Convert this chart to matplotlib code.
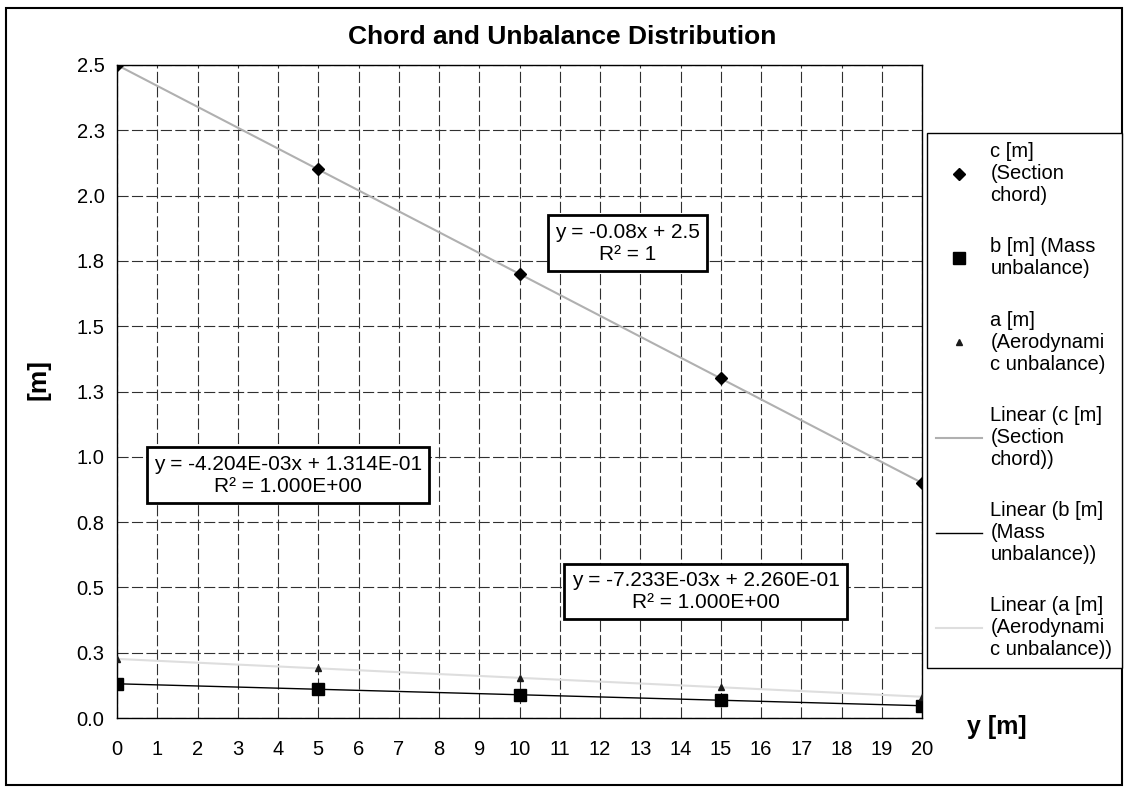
import numpy as np
import matplotlib
matplotlib.use("Agg")
import matplotlib.pyplot as plt
from matplotlib.patches import Rectangle

plt.rcParams['font.family'] = ['Liberation Sans', 'DejaVu Sans']

# data
span = [0, 5, 10, 15, 20]
chord = [2.5, 2.1, 1.7, 1.3, 0.9]
mass_unb = [0.131, 0.110, 0.089, 0.068, 0.047]
aero_unb = [0.226, 0.190, 0.154, 0.118, 0.081]

y_ticks = [0.0, 0.25, 0.5, 0.75, 1.0, 1.25, 1.5, 1.75, 2.0, 2.25, 2.5]
y_ticklabels = ['0.0', '0.3', '0.5', '0.8', '1.0', '1.3', '1.5', '1.8', '2.0', '2.3', '2.5']

eq_c = "y = -0.08x + 2.5\nR² = 1"
eq_b = "y = -4.204E-03x + 1.314E-01\nR² = 1.000E+00"
eq_a = "y = -7.233E-03x + 2.260E-01\nR² = 1.000E+00"

fs = 14.5

fig = plt.figure(figsize=(11.25, 7.91), dpi=100)
ax = fig.add_axes([117 / 1125, 1 - 718 / 791, 805 / 1125, 653 / 791])

# trendlines (linear fits)
xx = np.array([0, 20])
fit_c = np.polyfit(span, chord, 1)
fit_b = np.polyfit(span, mass_unb, 1)
fit_a = np.polyfit(span, aero_unb, 1)

sc_c, = ax.plot(span, chord, linestyle='none', marker='D', ms=6, color='black', zorder=5)
sc_b, = ax.plot(span, mass_unb, linestyle='none', marker='s', ms=8, color='black', zorder=5)
sc_a, = ax.plot(span, aero_unb, linestyle='none', marker='^', ms=5, color='#1a1a1a', zorder=5)
ln_c, = ax.plot(xx, np.polyval(fit_c, xx), color='#b0b0b0', lw=1.5, zorder=3)
ln_b, = ax.plot(xx, np.polyval(fit_b, xx), color='black', lw=1.0, zorder=3)
ln_a, = ax.plot(xx, np.polyval(fit_a, xx), color='#dedede', lw=1.5, zorder=3)

ax.set_xlim(0, 20)
ax.set_ylim(0, 2.5)
ax.set_xticks(range(0, 21))
ax.set_yticks(y_ticks)
ax.set_yticklabels(y_ticklabels)
ax.tick_params(length=0, labelsize=fs)
ax.tick_params(axis='x', pad=16)
ax.tick_params(axis='y', pad=9)
ax.grid(True, color='#303030', lw=0.8, linestyle=(0, (10, 3)))
for s in ax.spines.values():
    s.set_color('black')
    s.set_linewidth(1.0)

# equation labels
box = dict(boxstyle='square,pad=0.35', facecolor='white', edgecolor='black', lw=2)
ax.text(0.634, 0.727, eq_c, transform=ax.transAxes, ha='center', va='center',
        fontsize=15, bbox=box, multialignment='center', zorder=6)
ax.text(0.2125, 0.372, eq_b, transform=ax.transAxes, ha='center', va='center',
        fontsize=15, bbox=box, multialignment='center', zorder=6)
ax.text(0.731, 0.194, eq_a, transform=ax.transAxes, ha='center', va='center',
        fontsize=15, bbox=box, multialignment='center', zorder=6)

fig.text(562 / 1125, 1 - 37 / 791, "Chord and Unbalance Distribution", ha='center', va='center',
         fontsize=19, fontweight='bold')
fig.text(38 / 1125, 1 - 380 / 791, "[m]", rotation=90, ha='center', va='center',
         fontsize=19, fontweight='bold')
fig.text(997 / 1125, 1 - 727 / 791, "y [m]", ha='center', va='center',
         fontsize=18, fontweight='bold')

labels = ["c [m]\n(Section\nchord)", "b [m] (Mass\nunbalance)", "a [m]\n(Aerodynami\nc unbalance)",
          "Linear (c [m]\n(Section\nchord))", "Linear (b [m]\n(Mass\nunbalance))",
          "Linear (a [m]\n(Aerodynami\nc unbalance))"]
leg = fig.legend([sc_c, sc_b, sc_a, ln_c, ln_b, ln_a], labels,
                 loc='upper left', bbox_to_anchor=(927 / 1125, 1 - 133 / 791),
                 fontsize=fs, frameon=True, fancybox=False, framealpha=1,
                 handlelength=2.3, handletextpad=0.4, labelspacing=1.6,
                 borderaxespad=0, borderpad=0.45)
leg.get_frame().set_edgecolor('black')
leg.get_frame().set_linewidth(1.0)

# outer chart border
fig.patches.append(Rectangle((6 / 1125, 1 - 785 / 791), 1116 / 1125, 777 / 791,
                             transform=fig.transFigure, fill=False, edgecolor='black', lw=1.5))

fig.savefig("out.png", dpi=100)
